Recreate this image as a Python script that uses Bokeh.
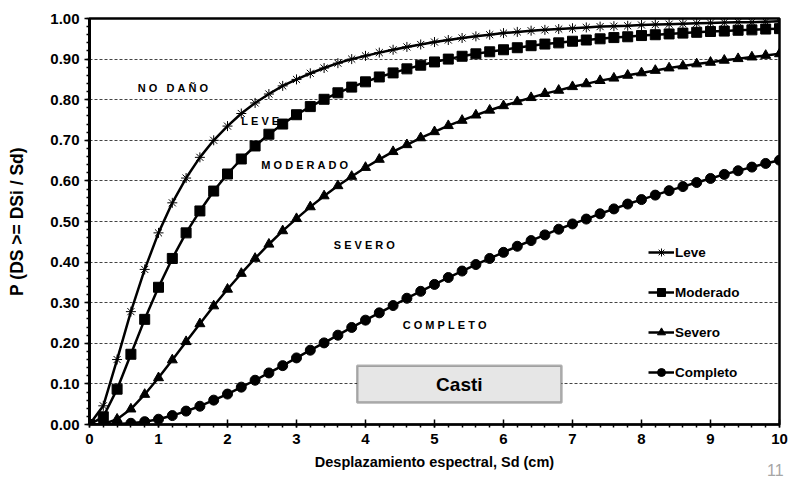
from bokeh.plotting import figure
from bokeh.models import (FixedTicker, NumeralTickFormatter, Legend, LegendItem,
                          Label, BoxAnnotation, LinearAxis)
from bokeh.embed import file_html
from bokeh.resources import INLINE

# ---- data ----
sd = [0.0, 0.2, 0.4, 0.6, 0.8, 1.0, 1.2, 1.4, 1.6, 1.8,
      2.0, 2.2, 2.4, 2.6, 2.8, 3.0, 3.2, 3.4, 3.6, 3.8,
      4.0, 4.2, 4.4, 4.6, 4.8, 5.0, 5.2, 5.4, 5.6, 5.8,
      6.0, 6.2, 6.4, 6.6, 6.8, 7.0, 7.2, 7.4, 7.6, 7.8,
      8.0, 8.2, 8.4, 8.6, 8.8, 9.0, 9.2, 9.4, 9.6, 9.8, 10.0]

leve = [0.000, 0.046, 0.160, 0.278, 0.382, 0.472, 0.546, 0.607, 0.658, 0.700,
        0.735, 0.766, 0.792, 0.814, 0.834, 0.850, 0.865, 0.878, 0.890, 0.900,
        0.908, 0.916, 0.923, 0.930, 0.936, 0.942, 0.947, 0.952, 0.956, 0.960,
        0.964, 0.967, 0.970, 0.972, 0.974, 0.976, 0.978, 0.980, 0.981, 0.982,
        0.984, 0.985, 0.986, 0.987, 0.988, 0.989, 0.990, 0.991, 0.991, 0.992, 0.993]

moderado = [0.000, 0.019, 0.087, 0.173, 0.259, 0.338, 0.409, 0.472, 0.526, 0.575,
            0.617, 0.654, 0.686, 0.715, 0.740, 0.763, 0.783, 0.801, 0.817, 0.831,
            0.844, 0.856, 0.866, 0.876, 0.885, 0.893, 0.900, 0.907, 0.913, 0.918,
            0.923, 0.928, 0.933, 0.937, 0.940, 0.944, 0.947, 0.950, 0.953, 0.955,
            0.958, 0.960, 0.962, 0.964, 0.966, 0.968, 0.969, 0.971, 0.972, 0.974, 0.975]

severo = [0.000, 0.001, 0.013, 0.038, 0.074, 0.115, 0.159, 0.204, 0.248, 0.292,
          0.333, 0.372, 0.409, 0.444, 0.477, 0.507, 0.536, 0.563, 0.588, 0.611,
          0.633, 0.653, 0.672, 0.689, 0.706, 0.721, 0.736, 0.749, 0.762, 0.774,
          0.785, 0.795, 0.805, 0.815, 0.823, 0.832, 0.839, 0.847, 0.853, 0.860,
          0.866, 0.872, 0.878, 0.883, 0.888, 0.892, 0.897, 0.901, 0.905, 0.909, 0.913]

completo = [0.000, 0.000, 0.001, 0.003, 0.007, 0.013, 0.022, 0.033, 0.045, 0.060,
            0.075, 0.092, 0.109, 0.127, 0.145, 0.164, 0.183, 0.201, 0.220, 0.239,
            0.257, 0.275, 0.293, 0.311, 0.328, 0.345, 0.362, 0.378, 0.394, 0.409,
            0.424, 0.439, 0.453, 0.467, 0.481, 0.494, 0.506, 0.519, 0.531, 0.543,
            0.554, 0.565, 0.576, 0.586, 0.596, 0.606, 0.616, 0.625, 0.634, 0.643, 0.651]

series_names = ["Leve", "Moderado", "Severo", "Completo"]
y_ticks = [0.0, 0.1, 0.2, 0.3, 0.4, 0.5, 0.6, 0.7, 0.8, 0.9, 1.0]
x_ticks = [0, 1, 2, 3, 4, 5, 6, 7, 8, 9, 10]
page_number = "11"

FONT = "Liberation Sans"
NB = "\u00a0"

p = figure(width=790, height=484, x_range=(0, 10), y_range=(0, 1),
           output_backend="svg", toolbar_location=None,
           min_border_left=89, min_border_right=11,
           min_border_top=18, min_border_bottom=60)
p.background_fill_color = "white"
p.border_fill_color = "white"
p.outline_line_color = "black"
p.outline_line_width = 2.5

# grid
p.xgrid.visible = False
p.ygrid.ticker = FixedTicker(ticks=y_ticks[1:-1])
p.ygrid.grid_line_color = "#444444"
p.ygrid.grid_line_width = 1
p.ygrid.grid_line_dash = "3 2"

# axes
p.xaxis.ticker = FixedTicker(ticks=x_ticks,
                             minor_ticks=[i / 5 for i in range(0, 51)])
p.yaxis.ticker = FixedTicker(ticks=y_ticks,
                             minor_ticks=[i / 50 for i in range(0, 51)])
p.yaxis.formatter = NumeralTickFormatter(format="0.00")

for ax in (p.xaxis[0], p.yaxis[0]):
    ax.axis_line_color = "black"
    ax.major_tick_line_color = "black"
    ax.minor_tick_line_color = "black"
    ax.major_label_text_font = FONT
    ax.major_label_text_font_style = "bold"
    ax.major_label_text_font_size = "15px"
    ax.major_label_text_color = "black"
    ax.axis_label_text_font = FONT
    ax.axis_label_text_font_style = "bold"
    ax.axis_label_text_color = "black"

p.xaxis.axis_line_width = 2
p.xaxis.major_tick_in = 5
p.xaxis.major_tick_out = 3
p.xaxis.major_tick_line_width = 1.5
p.xaxis.minor_tick_in = 0
p.xaxis.minor_tick_out = 3
p.xaxis.minor_tick_line_width = 1.5
p.xaxis.major_label_standoff = 6
p.xaxis.axis_label = "Desplazamiento espectral, Sd (cm)"
p.xaxis.axis_label_text_font_size = "14.5px"
p.xaxis.axis_label_standoff = 7

p.yaxis.axis_line_width = 3
p.yaxis.major_tick_in = 0
p.yaxis.major_tick_out = 5
p.yaxis.major_tick_line_width = 1.5
p.yaxis.minor_tick_in = 0
p.yaxis.minor_tick_out = 3
p.yaxis.minor_tick_line_width = 1.5
p.yaxis.major_label_standoff = 5
p.yaxis.axis_label = "P (DS >= DSi / Sd)"
p.yaxis.axis_label_text_font_size = "17.5px"
p.yaxis.axis_label_standoff = 20

# second (label-only) axis below, carrying the gray page number
pn_axis = LinearAxis(ticker=FixedTicker(ticks=[9.94]),
                     major_label_overrides={9.94: page_number},
                     axis_line_color=None, major_tick_line_color=None,
                     minor_tick_line_color=None, major_tick_in=0,
                     major_tick_out=0, major_label_standoff=-9,
                     major_label_text_font=FONT,
                     major_label_text_font_size="16px",
                     major_label_text_color="#a6a6a6")
p.add_layout(pn_axis, "below")

# series
ys = [leve, moderado, severo, completo]
markers = ["asterisk", "square", "triangle", "circle"]
sizes = [10, 10, 10, 10]
items = []
for name, yv, mk, sz in zip(series_names, ys, markers, sizes):
    ln = p.line(sd, yv, line_color="black", line_width=2.5)
    sc = p.scatter(sd, yv, marker=mk, size=sz, line_color="black",
                   fill_color="black", line_width=1)
    items.append(LegendItem(label=name, renderers=[ln, sc]))

legend = Legend(items=items, location=(559, 42), orientation="vertical",
                padding=0, margin=0, spacing=20, glyph_width=26,
                glyph_height=20, label_height=20, label_standoff=1,
                border_line_color=None, background_fill_alpha=0,
                label_text_font=FONT, label_text_font_style="bold",
                label_text_font_size="13.5px", label_text_color="black")
p.add_layout(legend)

# damage-state region labels
region_labels = [("N O   D A Ñ O", 0.70, 0.830),
                 ("L E V E", 2.20, 0.747),
                 ("M O D E R A D O", 2.49, 0.640),
                 ("S E V E R O", 3.54, 0.443),
                 ("C O M P L E T O", 4.54, 0.244)]
for txt, lx, ly in region_labels:
    p.add_layout(Label(x=lx, y=ly, text=txt.replace(" ", NB), text_font=FONT,
                       text_font_style="bold", text_font_size="11px",
                       text_color="black", text_baseline="middle",
                       text_align="left"))

# Casti box
p.add_layout(BoxAnnotation(left=3.88, right=6.84, bottom=0.054, top=0.145,
                           fill_color="#e6e6e6", fill_alpha=1,
                           line_color="black", line_width=2.5))
p.add_layout(Label(x=5.36, y=0.0995, text="Casti", text_font=FONT,
                   text_font_style="bold", text_font_size="19px",
                   text_color="black", text_align="center",
                   text_baseline="middle"))

open("out.html", "w").write(file_html(p, INLINE))
